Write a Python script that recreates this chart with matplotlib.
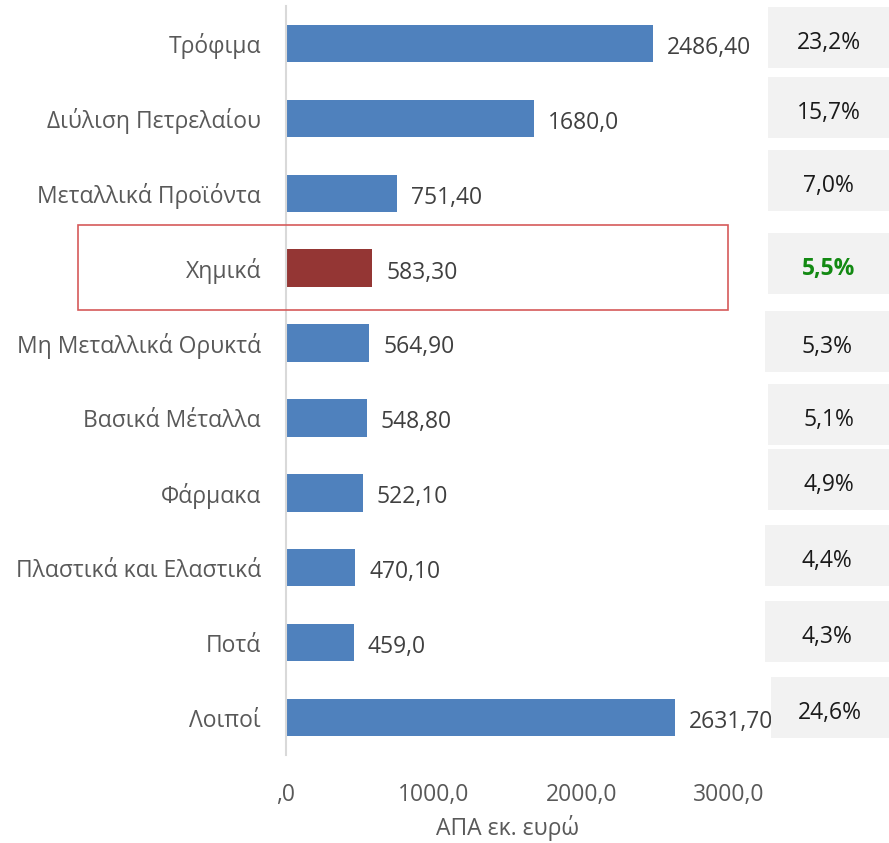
import matplotlib.pyplot as plt
from matplotlib.patches import Rectangle

plt.rcParams['font.family'] = ['Open Sans', 'DejaVu Sans']

# data
categories = ['Τρόφιμα', 'Διύλιση Πετρελαίου', 'Μεταλλικά Προϊόντα', 'Χημικά',
              'Μη Μεταλλικά Ορυκτά', 'Βασικά Μέταλλα', 'Φάρμακα',
              'Πλαστικά και Ελαστικά', 'Ποτά', 'Λοιποί']
values = [2486.40, 1680.0, 751.40, 583.30, 564.90, 548.80, 522.10, 470.10, 459.0, 2631.70]
value_labels = ['2486,40', '1680,0', '751,40', '583,30', '564,90', '548,80',
                '522,10', '470,10', '459,0', '2631,70']
shares = ['23,2%', '15,7%', '7,0%', '5,5%', '5,3%', '5,1%', '4,9%', '4,4%', '4,3%', '24,6%']
xticks = [0, 1000, 2000, 3000]
xtick_labels = [',0', '1000,0', '2000,0', '3000,0']
highlight = 'Χημικά'

W, H = 889, 843
FS = 16.5
fig = plt.figure(figsize=(W / 100, H / 100), dpi=100)
ax = fig.add_axes([286 / W, 1 - 755 / H, (729 - 286) / W, (755 - 6) / H])

colors = ['#943634' if c == highlight else '#4f81bd' for c in categories]
y = list(range(len(categories)))
ax.barh(y, values, height=0.5, color=colors)
ax.set_ylim(len(categories) - 0.5, -0.5)
ax.set_xlim(0, 3000)

for yi, v, lab in zip(y, values, value_labels):
    ax.annotate(lab, (v, yi), xytext=(10, -1), textcoords='offset points',
                ha='left', va='center_baseline', fontsize=FS, color='#404040',
                annotation_clip=False)

ax.set_yticks(y)
ax.set_yticklabels(categories, fontsize=FS, color='#595959')
ax.set_xticks(xticks)
ax.set_xticklabels(xtick_labels, fontsize=FS, color='#595959')
ax.tick_params(length=0)
ax.tick_params(axis='y', pad=18)
ax.tick_params(axis='x', pad=20)
ax.set_xlabel('ΑΠΑ εκ. ευρώ', fontsize=FS, color='#595959', labelpad=6)
for s in ['top', 'right', 'bottom']:
    ax.spines[s].set_visible(False)
ax.spines['left'].set_color('#d9d9d9')
ax.spines['left'].set_linewidth(1.5)

# red frame around the highlighted row
fig.add_artist(Rectangle((78 / W, 1 - 310 / H), (728 - 78) / W, (310 - 225) / H,
                         transform=fig.transFigure, fill=False,
                         edgecolor='#d65a5a', linewidth=1.2, zorder=5))

# gray share boxes
box_tops = [7, 77, 150, 233, 311, 384, 449, 525, 601, 677]
box_lefts = [768, 768, 768, 768, 765, 768, 768, 765, 765, 771]
for top, left, txt in zip(box_tops, box_lefts, shares):
    fig.add_artist(Rectangle((left / W, 1 - (top + 61) / H), (W - left) / W, 61 / H,
                             transform=fig.transFigure, facecolor='#f2f2f2',
                             edgecolor='none', zorder=5))
    is_hl = txt == '5,5%'
    fig.text((left + (W - left) / 2) / W, 1 - (top + 33) / H, txt,
             ha='center', va='center_baseline', fontsize=FS,
             color='#138a13' if is_hl else '#1a1a1a',
             fontweight='bold' if is_hl else 'normal', zorder=6)

fig.savefig('out.png', dpi=100)
